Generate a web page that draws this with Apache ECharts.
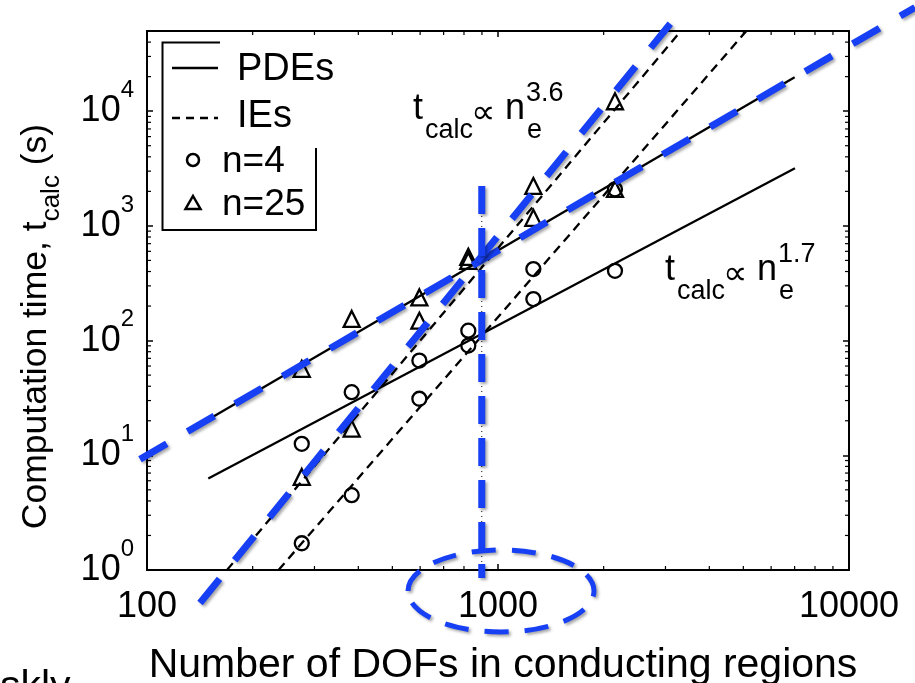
<!DOCTYPE html>
<html>
<head>
<meta charset="utf-8">
<script src="https://cdn.jsdelivr.net/npm/echarts@6/dist/echarts.min.js"></script>
<style>
  html, body { margin: 0; padding: 0; background: #fff; }
  #chart { width: 915px; height: 683px; }
</style>
</head>
<body>
<div id="chart"></div>
<script>
// axis ticks
const xTicks = [100, 1000, 10000];
const yTicks = [1, 10, 100, 1000, 10000];
const yMax = 50000;

// number of DOFs of the six meshes
const dofs = [276, 383, 597, 823, 1261, 2154];
// n=4 (circles)
const pdeN4 = [12.6, 35.5, 67, 90.5, 230, 406];
const ieN4 = [1.71, 4.49, 31.1, 122, 420, 2084];
// n=25 (triangles)
const pdeN25 = [56.7, 154.5, 238, 537, 1175, 2098];
const ieN25 = [6.48, 17.1, 149, 496, 2228, 12200];

// fitted power laws, [dofs, time] end points
const pdeFitN4 = [[149.5, 6.27], [7016, 3175]];
const pdeFitN25 = [[150, 20.6], [7000, 19800]];
const ieFitN4 = [[237, 1], [5100, 50000]];
const ieFitN25 = [[169, 1], [3320, 50000]];

// blue hand drawn marks on top of the figure
const blueShallow = [[95.5, 9.23], [15420, 80200]];
const blueSteep = [[141.6, 0.516], [3342, 77100]];
const blueVertical = [[899, 2228], [899, 0.852]];
const crossover = [[899, 2228], [899, 1]];

const FONT = '"Liberation Sans", Arial, Helvetica, sans-serif';
const BLUE = '#1740f5';
const shadow = { shadowColor: 'rgba(0,0,0,0.35)', shadowBlur: 3, shadowOffsetX: 2, shadowOffsetY: 2 };

// minor ticks 2..9 in each decade
const minorX = [];
xTicks.slice(0, -1).forEach(d => { for (let m = 2; m <= 9; m++) minorX.push([m * d, 1]); });
const minorY = [];
yTicks.forEach(d => { for (let m = 2; m <= 9; m++) if (m * d < yMax) minorY.push([100, m * d]); });

const pair = (xs, ys) => xs.map((x, i) => [x, ys[i]]);

const chartDom = document.getElementById('chart');
const chart = echarts.init(chartDom);

const tickStyle = { inside: true, length: 6, lineStyle: { color: '#000', width: 1.5 } };

const note = (x0, y0, exp) => {
  // t_calc ∝ n_e^exp, x0/y0 = left and baseline of "t"
  const big = 36, small = 27;
  const t = (text, dx, dy, size, font) => ({
    type: 'text', x: x0 + dx, y: y0 + dy - 0.3465 * size,
    style: { text: text, fontSize: size, fontFamily: font || FONT, fill: '#000', verticalAlign: 'middle' }
  });
  return [
    t('t', 0, 0, big),
    t('calc', 12, 18, small),
    t('\u221D', 58, 4, 34, '"DejaVu Sans", sans-serif'),
    t('n', 92, 0, big),
    t('e', 114, 18, small),
    t(exp, 113, -19, small)
  ];
};

const tickRender = (vertical) => (params, api) => {
  const cs = params.coordSys;
  const p = api.coord([api.value(0), api.value(1)]);
  const L = 4;
  const st = { stroke: '#000', lineWidth: 1.2 };
  if (vertical) {
    return { type: 'group', children: [
      { type: 'line', shape: { x1: p[0], y1: cs.y + cs.height, x2: p[0], y2: cs.y + cs.height - L }, style: st },
      { type: 'line', shape: { x1: p[0], y1: cs.y, x2: p[0], y2: cs.y + L }, style: st }
    ] };
  }
  return { type: 'group', children: [
    { type: 'line', shape: { x1: cs.x, y1: p[1], x2: cs.x + L, y2: p[1] }, style: st },
    { type: 'line', shape: { x1: cs.x + cs.width, y1: p[1], x2: cs.x + cs.width - L, y2: p[1] }, style: st }
  ] };
};

const fitLine = (data, dashed) => ({
  type: 'line', data: data, symbol: 'none', z: 3, silent: true,
  lineStyle: { color: '#000', width: 2.3, type: dashed ? [9, 6] : 'solid' }
});
// blue strokes run past the plot box, so draw them unclipped
const blueLine = (pts, dash) => ({
  type: 'custom', clip: false, z: 10, silent: true,
  data: [[pts[0][0], pts[0][1], pts[1][0], pts[1][1]]],
  encode: { x: [0, 2], y: [1, 3] },
  renderItem: (params, api) => {
    const a = api.coord([api.value(0), api.value(1)]);
    const b = api.coord([api.value(2), api.value(3)]);
    return {
      type: 'line', shape: { x1: a[0], y1: a[1], x2: b[0], y2: b[1] },
      style: Object.assign({ stroke: BLUE, lineWidth: 7, lineDash: dash, lineCap: 'butt' }, shadow)
    };
  }
});
const markers = (data, symbol, size) => ({
  type: 'scatter', data: data, symbol: symbol, symbolSize: size, z: 4,
  itemStyle: { color: 'rgba(0,0,0,0)', borderColor: '#000', borderWidth: 2.3, opacity: 1 }
});

const option = {
  animation: false,
  backgroundColor: '#fff',
  grid: {
    left: 147, right: 66, top: 31, bottom: 113, containLabel: false, outerBoundsMode: 'none',
    show: true, borderColor: '#000', borderWidth: 2, backgroundColor: 'transparent'
  },
  xAxis: [
    {
      type: 'log', logBase: 10, min: 100, max: 10000, position: 'bottom',
      axisLine: { show: false }, axisTick: tickStyle, splitLine: { show: false },
      axisLabel: {
        fontSize: 36, fontFamily: FONT, color: '#000', margin: 19,
        formatter: v => xTicks.includes(Math.round(v)) ? String(Math.round(v)) : ''
      },
      name: 'Number of DOFs in conducting regions', nameLocation: 'middle', nameGap: 75,
      nameTextStyle: { fontSize: 41, fontFamily: FONT, color: '#000', padding: [0, 0, 0, 10] }
    },
    {
      type: 'log', logBase: 10, min: 100, max: 10000, position: 'top',
      axisLine: { show: false }, axisTick: tickStyle, axisLabel: { show: false }, splitLine: { show: false }
    }
  ],
  yAxis: [
    {
      type: 'log', logBase: 10, min: 1, max: yMax, position: 'left',
      axisLine: { show: false }, axisTick: tickStyle, splitLine: { show: false },
      axisLabel: {
        margin: 13, showMaxLabel: false,
        formatter: v => {
          const e = Math.round(Math.log10(v));
          if (Math.abs(Math.log10(v) - e) > 1e-6 || !yTicks.includes(Math.pow(10, e))) return '';
          return '{b|10}{s|' + e + '}';
        },
        rich: {
          b: { fontSize: 36, fontFamily: FONT, color: '#000', lineHeight: 66 },
          s: { fontSize: 24, fontFamily: FONT, color: '#000', lineHeight: 24, verticalAlign: 'top' }
        }
      },
      name: '{a|Computation time, t}{s|calc}{a| (s)}', nameLocation: 'middle', nameGap: 93, nameRotate: 90,
      nameTextStyle: {
        padding: [0, 52, 0, 0],
        rich: {
          a: { fontSize: 35.5, fontFamily: FONT, color: '#000', lineHeight: 36, verticalAlign: 'top' },
          s: { fontSize: 26, fontFamily: FONT, color: '#000', lineHeight: 26, verticalAlign: 'top', padding: [21, 0, 0, 0] }
        }
      }
    },
    {
      type: 'log', logBase: 10, min: 1, max: yMax, position: 'right',
      axisLine: { show: false }, axisTick: tickStyle, axisLabel: { show: false }, splitLine: { show: false }
    }
  ],
  series: [
    { type: 'custom', data: minorX, renderItem: tickRender(true), silent: true, z: 2 },
    { type: 'custom', data: minorY, renderItem: tickRender(false), silent: true, z: 2 },
    fitLine(pdeFitN4, false),
    fitLine(pdeFitN25, false),
    fitLine(ieFitN4, true),
    fitLine(ieFitN25, true),
    {
      type: 'line', data: crossover, symbol: 'none', z: 3, silent: true,
      lineStyle: { color: '#000', width: 1, type: [1, 4] }
    },
    markers(pair(dofs, pdeN4), 'circle', 14),
    markers(pair(dofs, ieN4), 'circle', 14),
    markers(pair(dofs, pdeN25), 'triangle', 16),
    markers(pair(dofs, ieN25), 'triangle', 16),
    blueLine(blueShallow, [31, 24]),
    blueLine(blueSteep, [31, 24]),
    blueLine(blueVertical, [28, 14])
  ],
  graphic: [
    // legend, partly covered border
    { type: 'polyline', shape: { points: [[220, 42.5], [162.5, 42.5], [162.5, 230], [316, 230], [316, 148]] }, style: { stroke: '#000', lineWidth: 2, fill: 'none' }, z: 20 },
    { type: 'line', shape: { x1: 172, y1: 68, x2: 218, y2: 68 }, style: { stroke: '#000', lineWidth: 2.3 }, z: 20 },
    { type: 'line', shape: { x1: 172, y1: 118, x2: 218, y2: 118 }, style: { stroke: '#000', lineWidth: 2.3, lineDash: [8, 6] }, z: 20 },
    { type: 'circle', shape: { cx: 193, cy: 160, r: 6 }, style: { stroke: '#000', lineWidth: 2.5, fill: 'none' }, z: 20 },
    { type: 'polygon', shape: { points: [[193, 196], [200.5, 209], [185.5, 209]] }, style: { stroke: '#000', lineWidth: 2.5, fill: 'none' }, z: 20 },
    { type: 'text', x: 237, y: 70, style: { text: 'PDEs', fontSize: 38, fontFamily: FONT, fill: '#000', verticalAlign: 'middle' }, z: 20 },
    { type: 'text', x: 237, y: 117, style: { text: 'IEs', fontSize: 38, fontFamily: FONT, fill: '#000', verticalAlign: 'middle' }, z: 20 },
    { type: 'text', x: 222, y: 162, style: { text: 'n=4', fontSize: 37, fontFamily: FONT, fill: '#000', verticalAlign: 'middle' }, z: 20 },
    { type: 'text', x: 222, y: 205, style: { text: 'n=25', fontSize: 37, fontFamily: FONT, fill: '#000', verticalAlign: 'middle' }, z: 20 },
    // power law notes
    ...note(413, 122, '3.6').map(e => Object.assign(e, { z: 20 })),
    ...note(665, 283, '1.7').map(e => Object.assign(e, { z: 20 })),
    // blue ellipse around 1000
    {
      type: 'ellipse', shape: { cx: 501, cy: 591, rx: 93, ry: 41 }, z: 30,
      style: Object.assign({ fill: 'none', stroke: BLUE, lineWidth: 5, lineDash: [24, 16] }, shadow)
    },
    // cut off slide text
    { type: 'text', x: 0, y: 667, style: { text: 'skly', fontSize: 41, fontFamily: FONT, fill: '#000', verticalAlign: 'top' }, z: 20 }
  ]
};

chart.setOption(option);
</script>
</body>
</html>
